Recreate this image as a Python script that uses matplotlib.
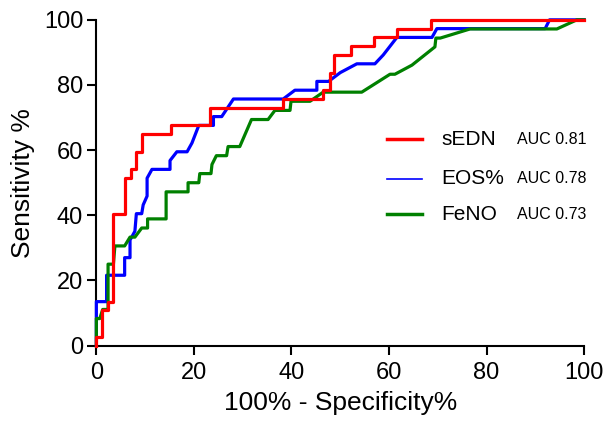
import matplotlib
matplotlib.use("Agg")
import matplotlib.pyplot as plt

plt.rcParams["font.family"] = ["Liberation Sans", "DejaVu Sans"]

# ROC curves (x = 100% - specificity, y = sensitivity)
sedn_x = [0, 0, 1.2, 1.2, 2.3, 2.3, 3.5, 3.5, 5.8, 5.8, 7.1, 7.1, 8.2, 8.2,
          9.3, 9.3, 15.3, 15.3, 23.3, 23.3, 38.3, 38.3, 46.5, 46.5, 47.8, 47.8,
          48.8, 48.8, 52.3, 52.3, 57.0, 57.0, 61.7, 61.7, 68.6, 68.6, 100]
sedn_y = [0, 2.7, 2.7, 10.8, 10.8, 13.5, 13.5, 40.5, 40.5, 51.4, 51.4, 54.1,
          54.1, 59.5, 59.5, 64.9, 64.9, 67.6, 67.6, 73.0, 73.0, 75.7, 75.7,
          78.4, 78.4, 83.8, 83.8, 89.2, 89.2, 91.9, 91.9, 94.6, 94.6, 97.3,
          97.3, 100, 100]

eos_x = [0, 0, 2.1, 2.1, 5.8, 5.8, 6.9, 6.9, 7.9, 8.2, 9.3, 9.6, 10.4, 10.4,
         11.4, 15.1, 15.1, 16.5, 18.6, 19.6, 21.0, 24.0, 24.0, 25.7, 28.1,
         38.3, 40.7, 45.2, 45.2, 47.6, 50.0, 53.4, 57.1, 58.8, 61.6, 68.8,
         69.8, 92.0, 92.9, 100]
eos_y = [0, 13.5, 13.5, 21.6, 21.6, 27.0, 27.0, 32.4, 35.1, 40.5, 40.5, 43.2,
         45.9, 51.4, 54.1, 54.1, 56.8, 59.5, 59.5, 62.2, 67.6, 67.6, 70.3,
         70.3, 75.7, 75.7, 78.4, 78.4, 81.1, 81.1, 83.8, 86.5, 86.5, 89.2,
         94.6, 94.6, 97.3, 97.3, 100, 100]

feno_x = [0, 0, 0.7, 1.3, 2.4, 2.4, 3.5, 3.8, 5.8, 6.9, 7.9, 9.3, 10.5, 10.5,
          14.3, 14.3, 18.8, 18.8, 21.0, 21.2, 23.5, 23.7, 24.6, 26.7, 27.0,
          29.4, 31.8, 35.2, 36.6, 39.7, 39.9, 43.8, 46.5, 54.4, 60.2, 61.2,
          64.7, 69.4, 69.6, 70.5, 76.6, 94.4, 98.5, 100]
feno_y = [0, 8.3, 8.3, 11.1, 11.1, 25.0, 25.0, 30.6, 30.6, 33.3, 33.3, 36.1,
          36.1, 38.9, 38.9, 47.2, 47.2, 50.0, 50.0, 52.8, 52.8, 55.6, 58.3,
          58.3, 61.1, 61.1, 69.4, 69.4, 72.2, 72.2, 75.0, 75.0, 77.8, 77.8,
          83.3, 83.3, 86.1, 91.7, 94.4, 94.4, 97.2, 97.2, 100, 100]

names = ["sEDN", "EOS%", "FeNO"]
aucs = ["AUC 0.81", "AUC 0.78", "AUC 0.73"]
colors = ["#ff0000", "#0000ff", "#008000"]

fig = plt.figure(figsize=(6.06, 4.22), dpi=100)
ax = fig.add_axes([0.159, 0.181, 0.805, 0.772])

ax.plot(eos_x, eos_y, color=colors[1], lw=2.3, clip_on=False, zorder=3)
ax.plot(feno_x, feno_y, color=colors[2], lw=2.3, clip_on=False, zorder=4)
ax.plot(sedn_x, sedn_y, color=colors[0], lw=2.3, clip_on=False, zorder=5)

ax.set_xlim(0, 100)
ax.set_ylim(0, 100)
ax.set_xticks(range(0, 101, 20))
ax.set_yticks(range(0, 101, 20))
for s in ["top", "right"]:
    ax.spines[s].set_visible(False)
for s in ["left", "bottom"]:
    ax.spines[s].set_linewidth(1.5)
ax.tick_params(axis="both", direction="out", length=6.5, width=1.5,
               labelsize=17, colors="black")
ax.tick_params(axis="x", pad=5)
ax.tick_params(axis="y", pad=3)

ax.set_xlabel("100% - Specificity%", fontsize=19, labelpad=5)
ax.set_ylabel("Sensitivity %", fontsize=19, labelpad=6)

# legend drawn by hand: line sample, name, AUC
rows = [0.634, 0.512, 0.403]
widths = [2.5, 1.2, 2.5]
for name, auc, c, yy, w in zip(names, aucs, colors, rows, widths):
    ax.plot([0.596, 0.667], [yy, yy], color=c, lw=w, transform=ax.transAxes)
    ax.text(0.708, yy, name, transform=ax.transAxes, fontsize=15,
            va="center", ha="left")
    ax.text(0.862, yy, auc, transform=ax.transAxes, fontsize=11.5,
            va="center", ha="left")

fig.savefig("out.png", dpi=100)
